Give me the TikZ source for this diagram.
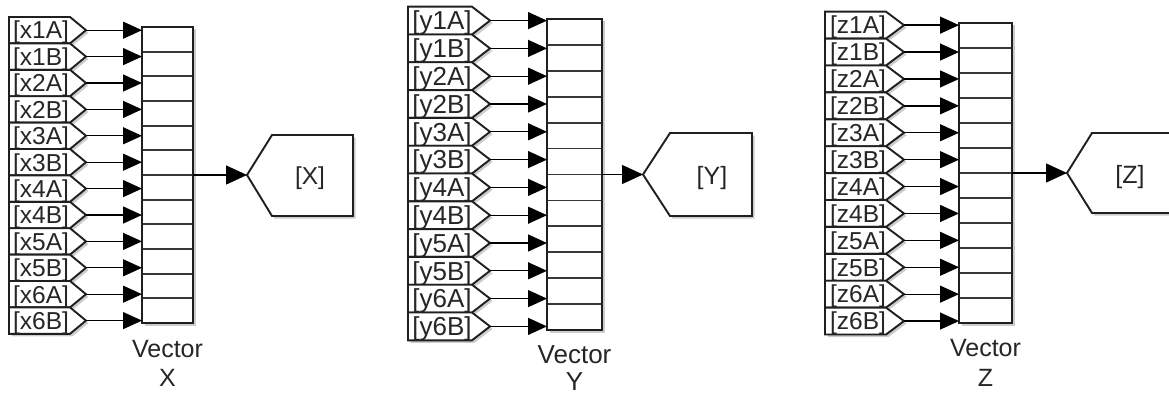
\documentclass[tikz,border=0pt]{standalone}
\usepackage{fontspec}
\setmainfont{Liberation Sans}
\usepackage{tikz}
\usetikzlibrary{
  arrows.meta,  % Triangle 箭头
  shadows       % 方块投影
}

\begin{document}
\begin{tikzpicture}[x=1pt, y=-1pt, line join=miter]
  % 统一设置：方块轮廓、分隔线、文字与信号线样式
  \tikzset{
    block line/.style={line width=1.9pt, draw=black!88, fill=white,
      drop shadow={shadow xshift=2.5pt, shadow yshift=-2.5pt, fill=black, opacity=0.2}},
    cell rule/.style={line width=1.7pt, draw=black!78},
    tag text/.style={font=\fontsize{#1}{#1}\selectfont, text=black!85, inner sep=0pt, anchor=base},
    label text/.style={font=\fontsize{#1}{#1}\selectfont, text=black!85, inner sep=0pt, anchor=base},
    signal/.style={line width=1.3pt, draw=black, -{Triangle[length=19pt, width=17pt]}},
    bus signal/.style={line width=1.3pt, draw=black, -{Triangle[length=21pt, width=19pt]}}
  }

  % 白底与画幅
  \path[use as bounding box, fill=white] (0,0) rectangle (1169,396);

  % =======================
  % 第 1 组：Vector X
  % =======================
  \begin{scope}
    % 多路器外框与 12 个格子
    \draw[block line] (142,27) rectangle (193,323);
    \foreach \k in {1,...,11}
      \draw[cell rule] (143,{27+\k*296/12}) -- (192,{27+\k*296/12});

    % 12 个 From 标签及其连线
    \foreach \n [count=\i from 0] in {x1A,x1B,x2A,x2B,x3A,x3B,x4A,x4B,x5A,x5B,x6A,x6B} {
      \pgfmathsetmacro\yt{17+26.4*\i}
      \pgfmathsetmacro\yc{\yt+13.2}
      \pgfmathsetmacro\yb{\yt+26.4}
      \coordinate (xtip\i) at (86,\yc);
      \coordinate (xin\i)  at (142,\yc);
      \draw[block line] (9,\yt) -- (70,\yt) -- (xtip\i) -- (70,\yb) -- (9,\yb) -- cycle;
      \node[tag text=24.5] (xtag\i) at (41,{\yc+8.8}) {[\n]};
      \draw[signal] (xtip\i) -- (xin\i);
    }

    % Goto 块 [X]
    \coordinate (xout) at (193,175);
    \coordinate (xgoto) at (247,175);
    \draw[block line] (xgoto) -- (272,135) -- (353,135) -- (353,216) -- (272,216) -- cycle;
    \node[tag text=24.5] (xname) at (310,184.5) {[X]};
    \draw[bus signal] (xout) -- (xgoto);

    % 下方名称
    \node[label text=25] (xcap1) at (167.5,357.3) {Vector};
    \node[label text=25] (xcap2) at (167.5,386.5) {X};
  \end{scope}

  % =======================
  % 第 2 组：Vector Y（略大）
  % =======================
  \begin{scope}
    \draw[block line] (547,19) rectangle (602,330);
    \foreach \k in {1,...,11}
      \draw[cell rule] (548,{19+\k*311/12}) -- (601,{19+\k*311/12});

    \foreach \n [count=\i from 0] in {y1A,y1B,y2A,y2B,y3A,y3B,y4A,y4B,y5A,y5B,y6A,y6B} {
      \pgfmathsetmacro\yt{6.7+27.8*\i}
      \pgfmathsetmacro\yc{\yt+13.9}
      \pgfmathsetmacro\yb{\yt+27.8}
      \coordinate (ytip\i) at (490,\yc);
      \coordinate (yin\i)  at (547,\yc);
      \draw[block line] (408,\yt) -- (472,\yt) -- (ytip\i) -- (472,\yb) -- (408,\yb) -- cycle;
      \node[tag text=26] (ytag\i) at (442,{\yc+9.3}) {[\n]};
      \draw[signal] (ytip\i) -- (yin\i);
    }

    % Goto 块 [Y]
    \coordinate (yout) at (602,174.5);
    \coordinate (ygoto) at (643,174.5);
    \draw[block line] (ygoto) -- (670,133) -- (752,133) -- (752,216) -- (670,216) -- cycle;
    \node[tag text=25] (yname) at (712,184) {[Y]};
    \draw[bus signal] (yout) -- (ygoto);

    \node[label text=26] (ycap1) at (574.5,363) {Vector};
    \node[label text=26] (ycap2) at (574.5,390.5) {Y};
  \end{scope}

  % =======================
  % 第 3 组：Vector Z
  % =======================
  \begin{scope}
    \draw[block line] (959,23) rectangle (1012,323);
    \foreach \k in {1,...,11}
      \draw[cell rule] (960,{23+\k*300/12}) -- (1011,{23+\k*300/12});

    \foreach \n [count=\i from 0] in {z1A,z1B,z2A,z2B,z3A,z3B,z4A,z4B,z5A,z5B,z6A,z6B} {
      \pgfmathsetmacro\yt{11.7+26.9*\i}
      \pgfmathsetmacro\yc{\yt+13.45}
      \pgfmathsetmacro\yb{\yt+26.9}
      \coordinate (ztip\i) at (904,\yc);
      \coordinate (zin\i)  at (959,\yc);
      \draw[block line] (825,\yt) -- (886,\yt) -- (ztip\i) -- (886,\yb) -- (825,\yb) -- cycle;
      \node[tag text=24.5] (ztag\i) at (858,{\yc+8.8}) {[\n]};
      \draw[signal] (ztip\i) -- (zin\i);
    }

    % Goto 块 [Z]（右侧超出画幅）
    \coordinate (zout) at (1012,173);
    \coordinate (zgoto) at (1067,173);
    \draw[block line] (zgoto) -- (1092,133) -- (1180,133) -- (1180,213) -- (1092,213) -- cycle;
    \node[tag text=25] (zname) at (1130,183) {[Z]};
    \draw[bus signal] (zout) -- (zgoto);

    \node[label text=25] (zcap1) at (985.5,356) {Vector};
    \node[label text=25] (zcap2) at (985.5,386.5) {Z};
  \end{scope}

\end{tikzpicture}
\end{document}
